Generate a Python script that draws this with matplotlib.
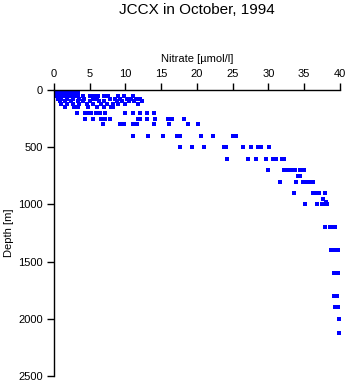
import numpy as np
import matplotlib
matplotlib.use("Agg")
import matplotlib.pyplot as plt

plt.rcParams['font.family'] = ['Liberation Sans', 'DejaVu Sans']

# nitrate [umol/l] per sampling depth [m]
depths = [0, 5, 10, 15, 20, 25, 30, 40, 50, 75, 100, 125, 150, 200, 250, 300,
          400, 500, 600, 700, 750, 800, 900, 950, 975, 1000, 1200, 1400, 1600,
          1800, 1900, 2000, 2125]
nitrate = [
    [0.1, 0.2, 0.3, 0.5, 0.8, 1.0, 1.2, 1.5, 2.0, 2.5, 3.0, 3.4],
    [0.1, 0.4, 0.7, 1.1, 1.6, 2.1, 2.7, 3.3],
    [0.1, 0.3, 0.6, 1.0, 1.5, 2.2, 3.0],
    [0.2, 0.5, 0.9, 1.4, 1.9, 2.4, 3.1],
    [0.2, 0.5, 0.9, 1.3, 2.0, 2.8, 3.4],
    [0.1, 0.6, 1.1, 1.7, 2.3, 3.0],
    [0.2, 0.4, 0.8, 1.5, 2.5, 3.2],
    [0.3, 0.7, 1.2, 1.8, 2.6, 3.3],
    [0.3, 0.6, 1.0, 1.6, 2.4, 3.0, 4.0, 5.0, 5.6, 6.2, 7.0, 7.5, 9.0, 9.8, 11.0],
    [0.5, 1.0, 1.8, 2.6, 3.5, 4.2, 5.4, 6.0, 7.8, 8.5, 9.3, 10.2, 10.8, 11.5, 12.0],
    [0.8, 1.5, 2.4, 3.3, 4.1, 5.0, 6.3, 7.0, 8.8, 9.5, 10.5, 11.2, 12.3],
    [1.0, 1.8, 2.7, 3.5, 4.6, 5.5, 6.6, 7.4, 8.2, 9.0, 10.0, 11.8],
    [1.5, 2.8, 3.3, 4.8, 6.0, 7.0, 8.0, 8.3],
    [3.2, 4.4, 4.8, 5.2, 5.9, 6.4, 7.2, 10.0, 11.0, 12.0, 13.0, 14.0],
    [4.4, 5.5, 6.6, 7.2, 7.8, 11.7, 12.0, 13.0, 14.2, 15.9, 16.5, 18.2],
    [6.9, 9.2, 9.8, 11.0, 11.6, 14.0, 16.1, 18.7, 20.1],
    [11.0, 13.1, 15.2, 17.2, 17.6, 20.6, 22.2, 25.1, 25.4],
    [17.6, 19.3, 21.0, 23.8, 24.1, 26.4, 27.5, 28.6, 29.0, 30.1],
    [24.2, 27.1, 28.3, 29.6, 30.7, 31.1, 31.9, 32.2],
    [29.9, 32.2, 32.7, 33.2, 33.7, 34.4, 34.9],
    [34.1, 34.4],
    [31.6, 33.8, 34.8, 35.3, 35.8, 36.2],
    [33.6, 36.2, 36.7, 37.1, 37.9],
    [37.6],
    [38.0],
    [35.1, 36.8, 37.5, 37.9, 38.2],
    [37.9, 38.6, 39.0, 39.3],
    [38.7, 39.1, 39.5, 39.7],
    [39.2, 39.5, 39.7],
    [39.2, 39.6],
    [39.3, 39.7],
    [39.9],
    [39.9],
]

x = np.concatenate([np.array(v) for v in nitrate])
y = np.concatenate([np.full(len(v), d) for d, v in zip(depths, nitrate)])

fig = plt.figure(figsize=(3.48, 3.84), dpi=100)
ax = fig.add_axes([0.155, 0.0208, 0.822, 0.7448])
ax.plot(x, y, 's', color='#0000ff', markersize=2.2, markeredgewidth=0)

ax.set_xlim(0, 40)
ax.set_ylim(2500, 0)
ax.set_xticks(np.arange(0, 41, 5))
ax.set_yticks(np.arange(0, 2501, 500))
ax.xaxis.tick_top()
ax.xaxis.set_label_position('top')
ax.spines['bottom'].set_visible(False)
ax.spines['right'].set_visible(False)
for s in ('left', 'top'):
    ax.spines[s].set_linewidth(1.0)
ax.tick_params(direction='out', length=5, width=1.0, labelsize=8, pad=3)
ax.set_xlabel('Nitrate [\u00b5mol/l]', fontsize=8, labelpad=5)
ax.set_ylabel('Depth [m]', fontsize=8, labelpad=3)
fig.text(0.566, 0.975, 'JCCX in October, 1994', fontsize=11, ha='center', va='center')

plt.savefig('out.png', dpi=100)
